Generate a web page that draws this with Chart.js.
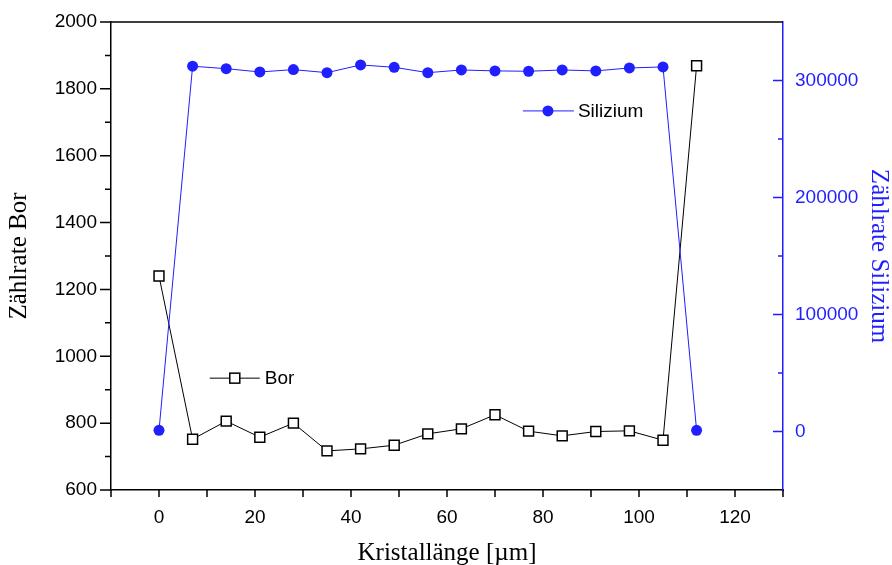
<!DOCTYPE html>
<html>
<head>
<meta charset="utf-8">
<script src="https://cdn.jsdelivr.net/npm/chart.js@4.4.1/dist/chart.umd.min.js"></script>
<style>
  html, body { margin: 0; padding: 0; background: #fff; }
</style>
</head>
<body>
<canvas id="chart" width="892" height="565"></canvas>
<script>
// position along the crystal in µm
const positions = [0, 7, 14, 21, 28, 35, 42, 49, 56, 63, 70, 77, 84, 91, 98, 105, 112];
const borCounts = [1240, 752, 806, 758, 800, 717, 723, 734, 768, 783, 825, 776, 762, 775, 777, 749, 1869];
const siCounts = [1000, 312200, 310100, 307300, 309300, 306700, 313300, 311300, 306700, 309000, 308200, 307900, 309000, 308200, 310700, 311600, 1000];

const xTicks = [0, 20, 40, 60, 80, 100, 120];
const xMinorTicks = [-10, 10, 30, 50, 70, 90, 110, 130];
const borTicks = [600, 800, 1000, 1200, 1400, 1600, 1800, 2000];
const borMinorTicks = [700, 900, 1100, 1300, 1500, 1700, 1900];
const siTicks = [0, 100000, 200000, 300000];
const siMinorTicks = [50000, 150000, 250000];

const blue = '#1f1fff';
const tickFont = { family: 'Liberation Sans, Arial, sans-serif', size: 19 };
const titleFont = { family: 'Liberation Serif, Times New Roman, serif', size: 25 };

const toPoints = (ys) => positions.map((x, i) => ({ x: x, y: ys[i] }));
const fixTicks = (values) => (scale) => { scale.ticks = values.map(v => ({ value: v })); };
const plain = (v) => String(v);
const fitY = (width) => (scale) => { scale.width = width; scale.paddingTop = 0; scale.paddingBottom = 0; };

// tick marks, top frame line and the in-plot legends
const axisDecor = {
    id: 'axisDecor',
    afterDraw(chart) {
        const { ctx, chartArea: a, scales } = chart;
        ctx.save();
        ctx.lineWidth = 1.5;

        ctx.strokeStyle = '#000';
        ctx.beginPath();
        ctx.moveTo(a.left, a.top);
        ctx.lineTo(a.right, a.top);
        borTicks.forEach(v => { const y = scales.bor.getPixelForValue(v); ctx.moveTo(a.left - 11, y); ctx.lineTo(a.left, y); });
        borMinorTicks.forEach(v => { const y = scales.bor.getPixelForValue(v); ctx.moveTo(a.left - 6, y); ctx.lineTo(a.left, y); });
        xTicks.concat(xMinorTicks).forEach(v => { const x = scales.x.getPixelForValue(v); ctx.moveTo(x, a.bottom); ctx.lineTo(x, a.bottom + 7); });
        ctx.stroke();

        ctx.strokeStyle = blue;
        ctx.beginPath();
        siTicks.forEach(v => { const y = scales.si.getPixelForValue(v); ctx.moveTo(a.right - 10, y); ctx.lineTo(a.right, y); });
        siMinorTicks.forEach(v => { const y = scales.si.getPixelForValue(v); ctx.moveTo(a.right - 5, y); ctx.lineTo(a.right, y); });
        ctx.stroke();

        const w = a.right - a.left, h = a.bottom - a.top;
        ctx.font = '19px Liberation Sans, Arial, sans-serif';
        ctx.textBaseline = 'middle';
        ctx.fillStyle = '#000';

        // Silizium legend
        let lx = a.left + w * 0.613, ly = a.top + h * 0.19;
        ctx.strokeStyle = blue;
        ctx.lineWidth = 1;
        ctx.beginPath();
        ctx.moveTo(lx, ly); ctx.lineTo(lx + 51, ly);
        ctx.stroke();
        ctx.fillStyle = blue;
        ctx.beginPath();
        ctx.arc(lx + 25, ly, 5.5, 0, Math.PI * 2);
        ctx.fill();
        ctx.fillStyle = '#000';
        ctx.fillText('Silizium', lx + 55, ly + 1);

        // Bor legend
        lx = a.left + w * 0.147; ly = a.top + h * 0.761;
        ctx.strokeStyle = '#000';
        ctx.beginPath();
        ctx.moveTo(lx, ly); ctx.lineTo(lx + 50, ly);
        ctx.stroke();
        ctx.fillStyle = '#fff';
        ctx.fillRect(lx + 20, ly - 5, 10, 10);
        ctx.lineWidth = 1.5;
        ctx.strokeRect(lx + 20, ly - 5, 10, 10);
        ctx.fillStyle = '#000';
        ctx.fillText('Bor', lx + 55, ly + 1);

        ctx.restore();
    }
};

const chart = new Chart(document.getElementById('chart'), {
    type: 'scatter',
    data: {
        datasets: [
            {
                label: 'Silizium',
                data: toPoints(siCounts),
                yAxisID: 'si',
                showLine: true,
                borderColor: blue,
                borderWidth: 1,
                backgroundColor: blue,
                pointStyle: 'circle',
                pointRadius: 5.5,
                pointBorderWidth: 0
            },
            {
                label: 'Bor',
                data: toPoints(borCounts),
                yAxisID: 'bor',
                showLine: true,
                borderColor: '#000',
                borderWidth: 1,
                backgroundColor: '#fff',
                pointStyle: 'rect',
                pointRadius: 7,
                pointBorderWidth: 1.5
            }
        ]
    },
    options: {
        responsive: false,
        animation: false,
        devicePixelRatio: 1,
        layout: { padding: { top: 22, left: 0, right: 0, bottom: 0 } },
        plugins: {
            legend: { display: false },
            tooltip: { enabled: false }
        },
        scales: {
            x: {
                type: 'linear',
                position: 'bottom',
                min: -10,
                max: 130,
                afterBuildTicks: fixTicks(xTicks),
                afterFit: (scale) => { scale.height = 75; scale.paddingLeft = 0; scale.paddingRight = 0; },
                grid: { display: false, drawTicks: false },
                border: { color: '#000', width: 1.5 },
                ticks: { color: '#000', font: tickFont, padding: 16, maxRotation: 0, callback: plain },
                title: { display: true, text: 'Kristallänge [µm]', color: '#000', font: titleFont, padding: { top: 0, bottom: -3 } }
            },
            bor: {
                type: 'linear',
                position: 'left',
                min: 600,
                max: 2000,
                afterBuildTicks: fixTicks(borTicks),
                afterFit: fitY(111),
                grid: { display: false, drawTicks: false },
                border: { color: '#000', width: 1.5 },
                ticks: { color: '#000', font: tickFont, padding: 14, callback: plain },
                title: { display: true, text: 'Zählrate Bor', color: '#000', font: titleFont, padding: { top: 4, bottom: 0 } }
            },
            si: {
                type: 'linear',
                position: 'right',
                min: -50000,
                max: 350000,
                afterBuildTicks: fixTicks(siTicks),
                afterFit: fitY(109),
                grid: { display: false, drawTicks: false },
                border: { color: blue, width: 1.5 },
                ticks: { color: blue, font: tickFont, padding: 12, callback: plain },
                title: { display: true, text: 'Zählrate Silizium', color: blue, font: titleFont, padding: { top: -2, bottom: 0 } }
            }
        }
    },
    plugins: [axisDecor]
});
</script>
</body>
</html>
